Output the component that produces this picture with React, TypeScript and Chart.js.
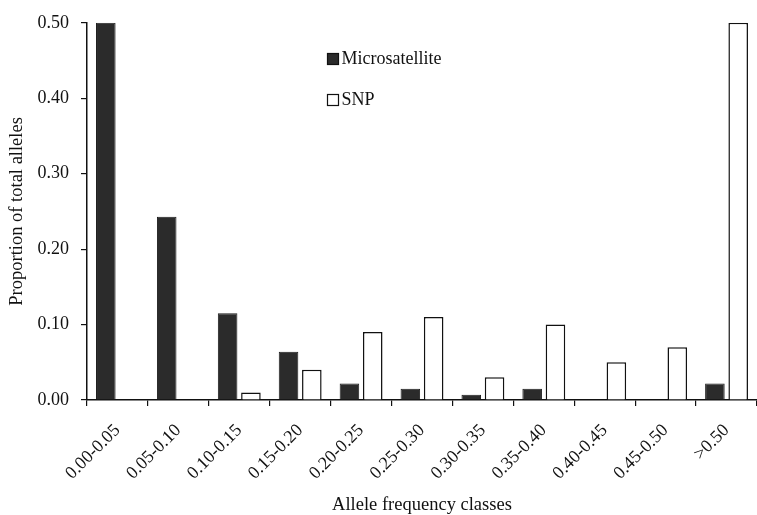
import React, { useEffect, useRef } from "react";
import { Chart, registerables } from "chart.js";

Chart.register(...registerables);

const categories = [
  "0.00-0.05",
  "0.05-0.10",
  "0.10-0.15",
  "0.15-0.20",
  "0.20-0.25",
  "0.25-0.30",
  "0.30-0.35",
  "0.35-0.40",
  "0.40-0.45",
  "0.45-0.50",
  ">0.50",
];
const microsatellite = [0.5, 0.243, 0.115, 0.064, 0.022, 0.015, 0.007, 0.015, 0, 0, 0.022];
const snp = [0, 0, 0.01, 0.04, 0.09, 0.11, 0.03, 0.1, 0.05, 0.07, 0.5];
const yTicks = [0, 0.1, 0.2, 0.3, 0.4, 0.5];

const FONT = "'Liberation Serif', 'Times New Roman', serif";

const legendPlugin = {
  id: "customLegend",
  afterDraw(chart: any) {
    const ctx = chart.ctx;
    const items = chart.data.datasets;
    const positions = [
      { x: 327.5, y: 53.5 },
      { x: 327.5, y: 94.5 },
    ];
    ctx.save();
    ctx.font = `18px ${FONT}`;
    ctx.textBaseline = "middle";
    ctx.fillStyle = "#111";
    items.forEach((ds: any, i: number) => {
      const p = positions[i];
      if (!p) return;
      ctx.fillStyle = ds.backgroundColor;
      ctx.fillRect(p.x, p.y, 11, 11);
      ctx.lineWidth = 1.2;
      ctx.strokeStyle = "#111";
      ctx.strokeRect(p.x, p.y, 11, 11);
      ctx.fillStyle = "#111";
      ctx.fillText(ds.label, p.x + 14, p.y + 6);
    });
    ctx.restore();
  },
};

export default function App() {
  const ref = useRef<HTMLCanvasElement | null>(null);
  useEffect(() => {
    document.body.style.margin = "0";
    if (!ref.current) return;
    const chart = new Chart(ref.current, {
      type: "bar",
      data: {
        labels: categories,
        datasets: [
          {
            label: "Microsatellite",
            data: microsatellite,
            backgroundColor: "#2b2b2b",
            borderColor: "#1c1c1c",
            borderWidth: 1,
          },
          {
            label: "SNP",
            data: snp,
            backgroundColor: "#ffffff",
            borderColor: "#111111",
            borderWidth: 1.5,
          },
        ],
      },
      options: {
        animation: false,
        responsive: false,
        maintainAspectRatio: false,
        layout: { padding: { top: 20, left: 0, right: 0, bottom: 0 } },
        datasets: {
          bar: { categoryPercentage: 0.765, barPercentage: 0.84 },
        },
        plugins: {
          legend: { display: false },
          tooltip: { enabled: false },
        },
        scales: {
          x: {
            afterFit: (s: any) => {
              s.height = 115;
            },
            grid: {
              offset: true,
              drawOnChartArea: false,
              drawTicks: true,
              tickLength: 6,
              color: "#111",
              lineWidth: 1.2,
            },
            border: { display: true, color: "#111", width: 1.5 },
            ticks: {
              maxRotation: 45,
              minRotation: 45,
              autoSkip: false,
              padding: 14,
              color: "#111",
              font: { family: FONT, size: 18 },
            },
            title: {
              display: true,
              text: "Allele frequency classes",
              color: "#111",
              font: { family: FONT, size: 18.5 },
              padding: { top: 0, bottom: -1 },
            },
          },
          y: {
            min: 0,
            max: 0.5,
            afterFit: (s: any) => {
              s.width = 87;
            },
            afterBuildTicks: (s: any) => {
              s.ticks = yTicks.map((v) => ({ value: v }));
            },
            grid: {
              drawOnChartArea: false,
              drawTicks: true,
              tickLength: 6,
              color: "#111",
              lineWidth: 1.2,
            },
            border: { display: true, color: "#111", width: 1.5 },
            ticks: {
              padding: 12,
              color: "#111",
              font: { family: FONT, size: 18 },
              callback: (v: any) => Number(v).toFixed(2),
            },
            title: {
              display: true,
              text: "Proportion of total alleles",
              color: "#111",
              font: { family: FONT, size: 18.5 },
              padding: { top: 6, bottom: 4 },
            },
          },
        },
      },
      plugins: [legendPlugin],
    });
    return () => chart.destroy();
  }, []);
  return (
    <div style={{ width: 757, height: 515, overflow: "hidden", background: "#fff" }}>
      <canvas ref={ref} width={757} height={515} style={{ display: "block" }} />
    </div>
  );
}
